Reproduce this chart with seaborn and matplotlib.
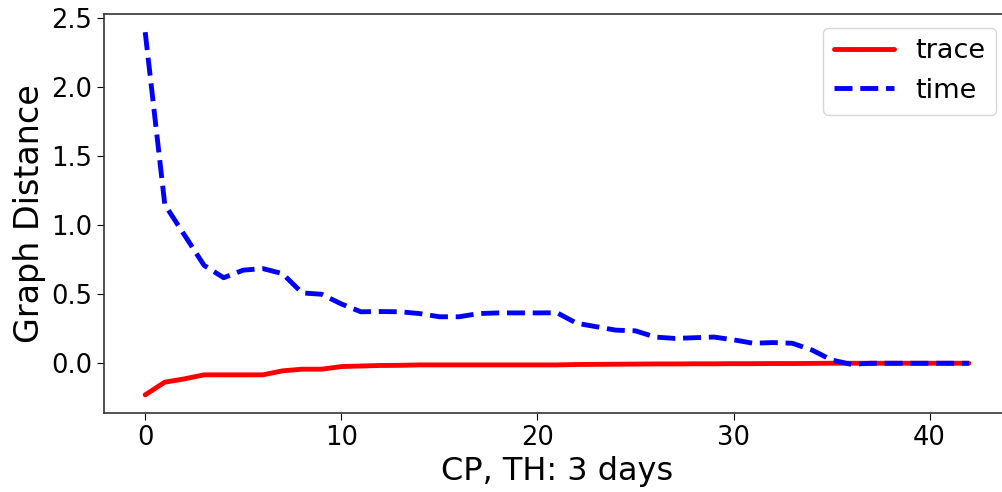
import numpy as np
import pandas as pd
import matplotlib
matplotlib.use("Agg")
import matplotlib.pyplot as plt
import seaborn as sns

# Graph distance per change point (3-day time horizon)
steps = list(range(43))
trace_dist = [-0.229, -0.137, -0.113, -0.084, -0.084, -0.084, -0.084, -0.055, -0.043, -0.043,
              -0.024, -0.020, -0.016, -0.015, -0.012, -0.012, -0.012, -0.012, -0.012, -0.012,
              -0.012, -0.012, -0.009, -0.008, -0.007, -0.006, -0.005, -0.005, -0.004, -0.004,
              -0.003, -0.003, -0.002, -0.002, -0.001, 0.000, 0.000, 0.000, 0.000, 0.000,
              0.000, 0.000, 0.000]
time_dist = [2.40, 1.15, 0.93, 0.71, 0.62, 0.675, 0.686, 0.65, 0.51, 0.50,
             0.43, 0.373, 0.375, 0.373, 0.36, 0.337, 0.337, 0.36, 0.365, 0.365,
             0.365, 0.366, 0.29, 0.265, 0.24, 0.235, 0.19, 0.18, 0.185, 0.19,
             0.17, 0.145, 0.15, 0.145, 0.096, 0.024, -0.008, 0.0, 0.0, 0.0,
             0.0, 0.0, 0.0]
series_names = ["trace", "time"]

df = pd.DataFrame({
    "step": steps * 2,
    "distance": trace_dist + time_dist,
    "kind": [series_names[0]] * len(steps) + [series_names[1]] * len(steps),
})

sns.set_style("ticks")
plt.rcParams["font.family"] = ["DejaVu Sans"]
plt.rcParams["text.color"] = "black"
plt.rcParams["axes.labelcolor"] = "black"
plt.rcParams["xtick.color"] = "black"
plt.rcParams["ytick.color"] = "black"

fig = plt.figure(figsize=(10.03, 4.92), dpi=100)
ax = fig.add_axes([0.1037, 0.1606, 0.9033, 0.8109])

sns.lineplot(data=df, x="step", y="distance", hue="kind", style="kind",
             palette={"trace": "red", "time": "blue"},
             dashes={"trace": "", "time": (3.7, 1.6)},
             linewidth=3.5, ax=ax)

ax.set_xlabel("CP, TH: 3 days", fontsize=23)
ax.set_ylabel("Graph Distance", fontsize=24)
ax.tick_params(axis="both", labelsize=18.5, direction="out", length=5)
ax.set_xticks([0, 10, 20, 30, 40])
ax.set_yticks([0.0, 0.5, 1.0, 1.5, 2.0, 2.5])
for s in ax.spines.values():
    s.set_color("#333333")
    s.set_linewidth(1.2)

leg = ax.legend(loc="upper right", fontsize=19.5, handlelength=2.2,
                bbox_to_anchor=(1.0, 1.0))
for line in leg.get_lines():
    line.set_linewidth(3.5)

fig.savefig("out.png", dpi=100)
